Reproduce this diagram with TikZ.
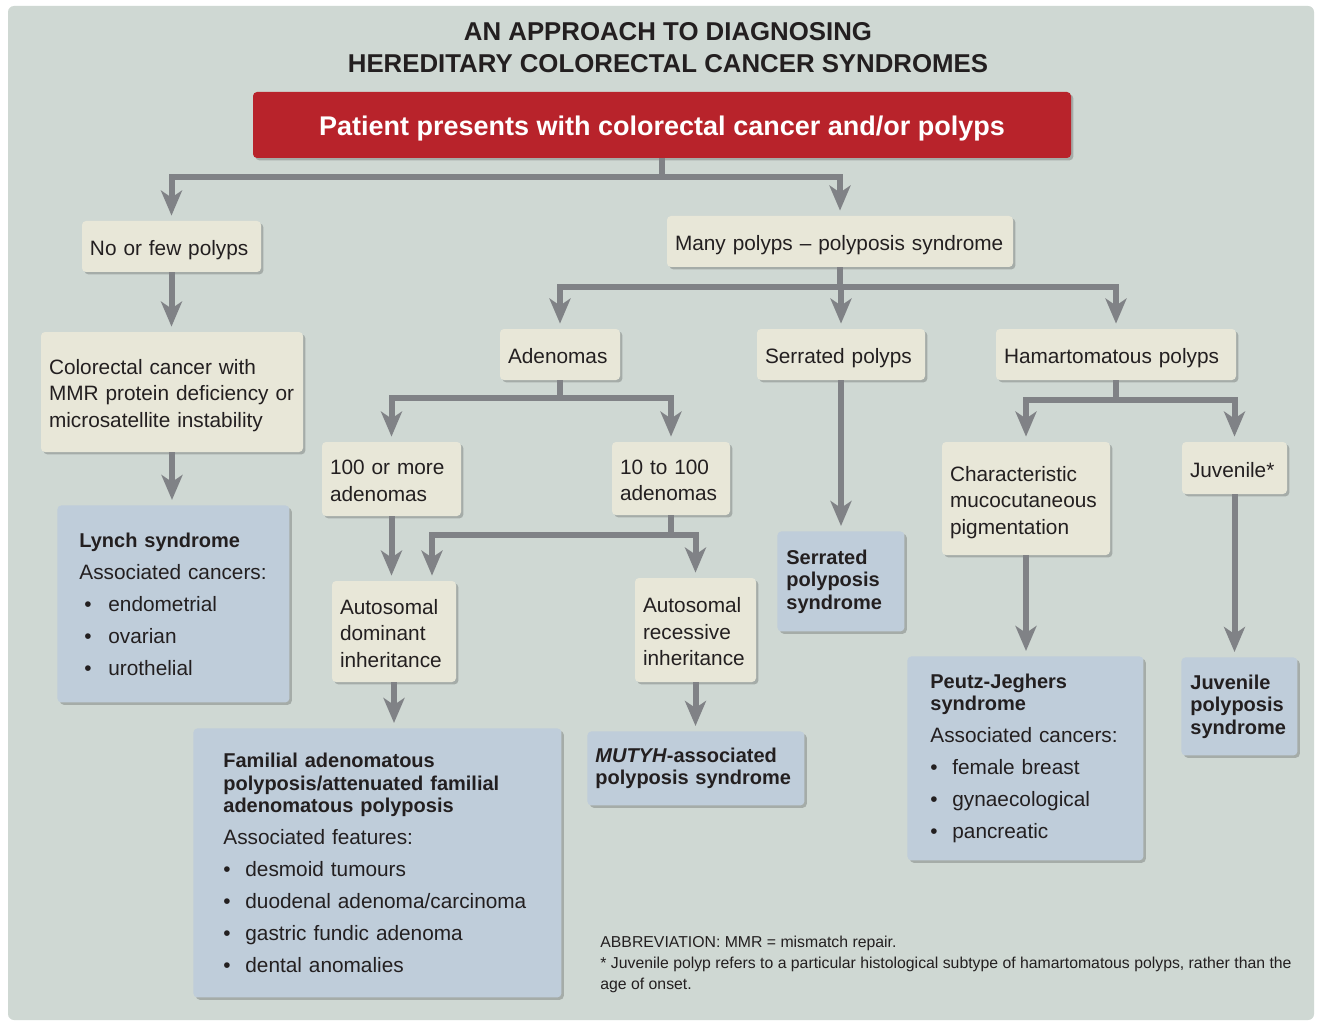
\documentclass[tikz,border=0pt]{standalone}
\usepackage{fontspec}
\setmainfont{Liberation Sans}
\usetikzlibrary{arrows.meta,shadows}

\definecolor{panel}{HTML}{CFD8D3}
\definecolor{beige}{HTML}{E8E7D8}
\definecolor{bluebox}{HTML}{BFCDDA}
\definecolor{redbox}{HTML}{B8232B}
\definecolor{arrowgray}{HTML}{808286}
\definecolor{ink}{HTML}{231F20}

\hyphenpenalty=10000
\exhyphenpenalty=10000
\newcommand\bul[1][11pt]{\makebox[#1][l]{\textbullet}}
\newcommand\boxtitle{\bfseries\fontsize{10}{11.25}\selectfont}

\tikzset{
  shade box/.style={drop shadow={shadow xshift=1.2pt,shadow yshift=-1.2pt,opacity=.2,fill=black}},
  choice/.style={shade box, fill=beige, rounded corners=2pt, text=ink,
    font=\fontsize{10.4}{13.25}\selectfont, align=left, inner xsep=4pt, inner ysep=0pt,
    execute at begin node={\rule{0pt}{12pt}}, execute at end node={\rule[-3pt]{0pt}{3pt}}},
  result/.style={shade box, fill=bluebox, rounded corners=2pt, text=ink,
    font=\fontsize{10.4}{16}\selectfont, align=left, inner ysep=0pt, anchor=north west},
  arr/.style={draw=arrowgray, line width=3pt, line join=miter,
    -{Stealth[length=12.5pt,width=10.5pt,inset=3.5pt]}, shorten >=2.5pt},
}

\begin{document}
\begin{tikzpicture}[x=0.5pt,y=-0.5pt]
\useasboundingbox (0,0) rectangle (1319,1022);
\fill[white] (0,0) rectangle (1319,1022);
\fill[panel, rounded corners=3pt] (8,6) rectangle (1314,1020);

\node (title) at (668,48) [align=center, text=ink, font=\bfseries\fontsize{12.9}{16}\selectfont]
  {AN APPROACH TO DIAGNOSING\\HEREDITARY COLORECTAL CANCER SYNDROMES};
\node (start) at (662,125) [shade box, fill=redbox, rounded corners=2pt, text=white,
  minimum width=409pt, minimum height=33pt, text height=14pt, text depth=3pt,
  font=\bfseries\fontsize{13.5}{16}\selectfont]
  {Patient presents with colorectal cancer and/or polyps};

% first split
\node (nofew) at (171.5,246.5) [choice, text width=81.5pt, minimum height=25.5pt] {No or few polyps};
\node (many) at (840,241.5) [choice, text width=165pt, minimum height=25.5pt] {Many polyps -- polyposis syndrome};
\node (mmr) at (172,392) [choice, text width=123pt, minimum height=60pt]
  {Colorectal cancer with\\MMR protein deficiency or\\microsatellite instability};

% polyp types
\node (adenomas) at (560,354.5) [choice, text width=52pt, minimum height=25.5pt] {Adenomas};
\node (serrated) at (841,354.5) [choice, text width=76pt, minimum height=25.5pt] {Serrated polyps};
\node (hamart) at (1116,354.5) [choice, text width=112pt, minimum height=25.5pt] {Hamartomatous polyps};
\node (hundred) at (391.5,479) [choice, text width=61.5pt, minimum height=37pt] {100 or more\\adenomas};
\node (ten) at (671,478.5) [choice, text width=51pt, minimum height=36.5pt] {10 to 100\\adenomas};
\node (dominant) at (394,631.5) [choice, text width=54pt, minimum height=50.5pt] {Autosomal\\dominant\\inheritance};
\node (recessive) at (695.5,630) [choice, text width=52.5pt, minimum height=52pt] {Autosomal\\recessive\\inheritance};
\node (pigment) at (1026,498.5) [choice, text width=76pt, minimum height=56.5pt] {Characteristic\\mucocutaneous\\pigmentation};
\node (juvenile) at (1234.5,468) [choice, text width=44.5pt, minimum height=26pt] {Juvenile*};

% syndromes
\node (lynch) at (57,505) [result, inner xsep=11pt, text width=94pt, minimum height=98.5pt]
  {{\boxtitle Lynch syndrome\par}
   Associated cancers:\\
   \hspace{2.5pt}\bul[12pt]endometrial\\
   \hspace{2.5pt}\bul[12pt]ovarian\\
   \hspace{2.5pt}\bul[12pt]urothelial};
\node (fap) at (193,728) [result, inner xsep=15pt, text width=154pt, minimum height=134.5pt]
  {{\boxtitle Familial adenomatous\\ polyposis/attenuated familial\\ adenomatous polyposis\par}
   Associated features:\\
   \bul desmoid tumours\\
   \bul duodenal adenoma/carcinoma\\
   \bul gastric fundic adenoma\\
   \bul dental anomalies};
\node (mutyh) at (587,731) [result, inner xsep=4pt, text width=100.5pt, minimum height=37pt, font=\boxtitle]
  {\textit{MUTYH}-associated\\ polyposis syndrome};
\node (serrsyn) at (777,531) [result, inner xsep=4.5pt, text width=54.5pt, minimum height=50pt, font=\boxtitle]
  {Serrated\\ polyposis\\ syndrome};
\node (pj) at (907,656) [result, inner xsep=11.5pt, text width=95pt, minimum height=102pt]
  {{\boxtitle Peutz-Jeghers\\ syndrome\par}
   Associated cancers:\\
   \bul female breast\\
   \bul gynaecological\\
   \bul pancreatic};
\node (juvsyn) at (1181,657) [result, inner xsep=4.5pt, text width=49pt, minimum height=49pt, font=\boxtitle]
  {Juvenile\\ polyposis\\ syndrome};

% connectors
\draw[arr] (start.south) -- ++(0,19) -| (nofew.north);
\draw[arr] (start.south) -- ++(0,19) -| (many.north);
\draw[arr] (nofew.south) -- (nofew.south |- mmr.north);
\draw[arr] (mmr.south) -- (mmr.south |- lynch.north);
\draw[arr] (many.south) -- ++(0,20) -| (adenomas.north);
\draw[arr] (many.south) -- ++(0,20) -| (serrated.north);
\draw[arr] (many.south) -- ++(0,20) -| (hamart.north);
\draw[arr] (adenomas.south) -- ++(0,18) -| (hundred.north);
\draw[arr] (adenomas.south) -- ++(0,18) -| (ten.north);
\draw[arr] (hundred.south) -- (hundred.south |- dominant.north);
\draw[arr] (ten.south) -- ++(0,20) -| ([xshift=19pt]dominant.north);
\draw[arr] (ten.south) -- ++(0,20) -| (recessive.north);
\draw[arr] (dominant.south) -- (dominant.south |- fap.north);
\draw[arr] (recessive.south) -- (recessive.south |- mutyh.north);
\draw[arr] (serrated.south) -- (serrated.south |- serrsyn.north);
\draw[arr] (hamart.south) -- ++(0,20) -| (pigment.north);
\draw[arr] (hamart.south) -- ++(0,20) -| (juvenile.north);
\draw[arr] (pigment.south) -- (pigment.south |- pj.north);
\draw[arr] (juvenile.south) -- (juvenile.south |- juvsyn.north);

\node (note) at (600,936) [anchor=north west, align=left, text=ink, inner sep=0pt,
  font=\fontsize{7.9}{10.5}\selectfont]
  {ABBREVIATION: MMR = mismatch repair.\\
   * Juvenile polyp refers to a particular histological subtype of hamartomatous polyps, rather than the\\
   age of onset.};
\end{tikzpicture}
\end{document}
